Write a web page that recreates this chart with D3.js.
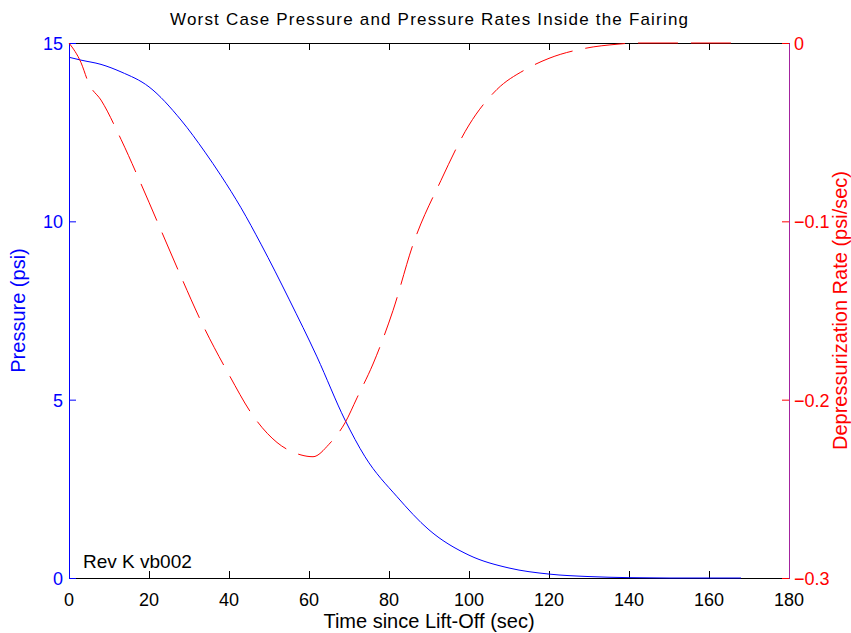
<!DOCTYPE html>
<html>
<head>
<meta charset="utf-8">
<script src="https://cdn.jsdelivr.net/npm/d3@7"></script>
<style>
  body { margin: 0; background: #fff; }
  svg text { font-family: "Liberation Sans", Arial, sans-serif; }
</style>
</head>
<body>
<div id="chart-area"></div>
<script>
// Pressure (psi) vs time
const pressureTime = [0, 3, 8, 13, 20, 28, 34, 38, 43, 48, 55, 62, 69, 74, 82, 90, 100, 110, 120, 130, 140, 150, 160, 168];
const pressureVals = [14.6, 14.52, 14.4, 14.19, 13.77, 12.84, 11.94, 11.28, 10.38, 9.36, 7.82, 6.2, 4.43, 3.4, 2.28, 1.35, 0.64, 0.28, 0.11, 0.04, 0.01, 0.0, 0.0, 0.0];

// Depressurization rate (psi/sec) vs time
const rateTime = [0, 3, 5, 8, 13, 18, 23, 28, 33, 40, 46, 52, 58, 61, 65, 69, 72, 76, 81, 86, 93, 100, 107, 114, 120, 129, 137, 142, 150, 160, 168];
const rateVals = [0, -0.011, -0.023, -0.032, -0.054, -0.079, -0.105, -0.131, -0.156, -0.186, -0.209, -0.224, -0.231, -0.232, -0.225, -0.213, -0.199, -0.18, -0.15, -0.113, -0.077, -0.046, -0.026, -0.015, -0.0086, -0.003, -0.0007, 0, 0, 0, 0];

const xTicks = [0, 20, 40, 60, 80, 100, 120, 140, 160, 180];
const leftTicks = [0, 5, 10, 15];
const rightTicks = [-0.3, -0.2, -0.1, 0];

const margin = { top: 43, right: 62, bottom: 55, left: 69 };
const width = 851 - margin.left - margin.right,
  height = 633 - margin.top - margin.bottom;

const svg = d3
  .select("#chart-area")
  .append("svg")
  .attr("width", 851)
  .attr("height", 633);

const g = svg
  .append("g")
  .attr("transform", "translate(" + margin.left + "," + margin.top + ")");

// Scales
const xScale = d3.scaleLinear().domain([0, 180]).range([0, width]);
const yLeft = d3.scaleLinear().domain([0, 15]).range([height, 0]);
const yRight = d3.scaleLinear().domain([-0.3, 0]).range([height, 0]);

// Top border with inward ticks
const topAxis = g
  .append("g")
  .call(d3.axisBottom(xScale).tickValues(xTicks).tickSize(7).tickFormat(""));
topAxis.selectAll("path, line").attr("stroke", "#000");

// Bottom axis
const xAxisGroup = g
  .append("g")
  .attr("transform", "translate(0," + height + ")")
  .call(d3.axisTop(xScale).tickValues(xTicks).tickSize(7).tickFormat(""));
xAxisGroup.selectAll("path, line").attr("stroke", "#000");

g.selectAll(".x-label")
  .data(xTicks)
  .enter()
  .append("text")
  .attr("class", "x-label")
  .attr("x", d => xScale(d))
  .attr("y", height + 28)
  .attr("text-anchor", "middle")
  .attr("font-size", "18px")
  .attr("fill", "#000")
  .text(d => d);

// Left axis (blue)
const yLeftGroup = g
  .append("g")
  .call(d3.axisRight(yLeft).tickValues(leftTicks).tickSize(7).tickFormat(""));
yLeftGroup.selectAll("path, line").attr("stroke", "#0000ff");

g.selectAll(".yl-label")
  .data(leftTicks)
  .enter()
  .append("text")
  .attr("class", "yl-label")
  .attr("x", -6)
  .attr("y", d => yLeft(d) + 7)
  .attr("text-anchor", "end")
  .attr("font-size", "18px")
  .attr("fill", "#0000ff")
  .text(d => d);

// Right axis (red, edge overlapped with blue box -> purple)
const yRightGroup = g
  .append("g")
  .attr("transform", "translate(" + width + ",0)")
  .call(d3.axisLeft(yRight).tickValues(rightTicks).tickSize(7).tickFormat(""));
yRightGroup.selectAll("line").attr("stroke", "#ff0000");
yRightGroup.select("path").attr("stroke", "#a3239f");

g.selectAll(".yr-label")
  .data(rightTicks)
  .enter()
  .append("text")
  .attr("class", "yr-label")
  .attr("x", width + 5)
  .attr("y", d => yRight(d) + 7)
  .attr("text-anchor", "start")
  .attr("font-size", "18px")
  .attr("fill", "#ff0000")
  .text(d => (d === 0 ? "0" : d3.format(".1f")(d)));

// Lines
const pressureLine = d3
  .line()
  .x(d => xScale(d[0]))
  .y(d => yLeft(d[1]))
  .curve(d3.curveMonotoneX);

const rateLine = d3
  .line()
  .x(d => xScale(d[0]))
  .y(d => yRight(d[1]))
  .curve(d3.curveMonotoneX);

g.append("path")
  .datum(pressureTime.map((t, i) => [t, pressureVals[i]]))
  .attr("d", pressureLine)
  .attr("fill", "none")
  .attr("stroke", "#0000ff")
  .attr("stroke-width", 1);

g.append("path")
  .datum(rateTime.map((t, i) => [t, rateVals[i]]))
  .attr("d", rateLine)
  .attr("fill", "none")
  .attr("stroke", "#ff0000")
  .attr("stroke-width", 1)
  .attr("stroke-dasharray", "40,13");

// Annotation
g.append("text")
  .attr("x", 14)
  .attr("y", height - 10)
  .attr("font-size", "19px")
  .attr("fill", "#000")
  .text("Rev K vb002");

// Title
svg
  .append("text")
  .attr("x", margin.left + width / 2)
  .attr("y", 25)
  .attr("text-anchor", "middle")
  .attr("font-size", "17px")
  .attr("textLength", 518)
  .attr("lengthAdjust", "spacing")
  .attr("fill", "#000")
  .text("Worst Case Pressure and Pressure Rates Inside the Fairing");

// X label
svg
  .append("text")
  .attr("x", margin.left + width / 2)
  .attr("y", 628)
  .attr("text-anchor", "middle")
  .attr("font-size", "20px")
  .attr("fill", "#000")
  .text("Time since Lift-Off (sec)");

// Left Y label
svg
  .append("text")
  .attr("transform", "translate(25," + (margin.top + height / 2) + ") rotate(-90)")
  .attr("text-anchor", "middle")
  .attr("font-size", "20px")
  .attr("fill", "#0000ff")
  .text("Pressure (psi)");

// Right Y label
svg
  .append("text")
  .attr("transform", "translate(847," + (margin.top + height / 2) + ") rotate(-90)")
  .attr("text-anchor", "middle")
  .attr("font-size", "20px")
  .attr("fill", "#ff0000")
  .text("Depressurization Rate (psi/sec)");
</script>
</body>
</html>
